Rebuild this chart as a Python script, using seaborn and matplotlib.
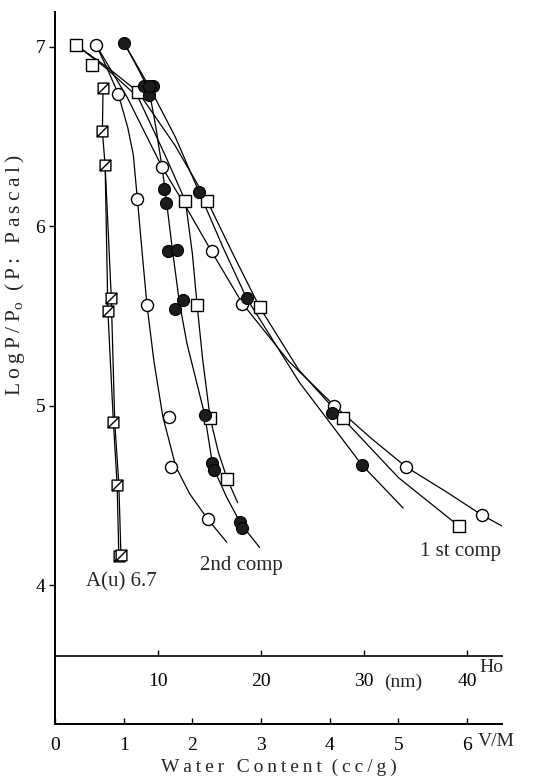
import numpy as np
import pandas as pd
import matplotlib
matplotlib.use("Agg")
import matplotlib.pyplot as plt
import seaborn as sns
from matplotlib.path import Path

# ---------------- data ----------------
# A(u) 6.7 (hatched squares), two runs
au1_x = [0.70, 0.69, 0.73, 0.77, 0.85, 0.905, 0.93]
au1_y = [6.77, 6.53, 6.34, 5.53, 4.91, 4.56, 4.16]
au2_x = [0.73, 0.82, 0.87, 0.93, 0.96]
au2_y = [6.34, 5.60, 4.91, 4.56, 4.17]
au2_mx = [0.82, 0.96]
au2_my = [5.60, 4.17]

# 2nd comp
oc2_x = [0.92, 1.20, 1.34, 1.66, 1.69, 2.23]
oc2_y = [6.74, 6.15, 5.56, 4.94, 4.66, 4.37]
fc2_x = [1.30, 1.42, 1.37, 1.59, 1.62, 1.65, 1.77, 1.87, 1.75, 2.18, 2.28, 2.32, 2.69, 2.73]
fc2_y = [6.78, 6.78, 6.73, 6.21, 6.13, 5.86, 5.87, 5.59, 5.54, 4.95, 4.68, 4.64, 4.35, 4.32]
os2_x = [0.54, 1.90, 2.07, 2.26, 2.51]
os2_y = [6.90, 6.14, 5.56, 4.93, 4.59]

# 1st comp
oc1_x = [0.60, 1.56, 2.28, 2.73, 4.07, 5.11, 6.22]
oc1_y = [7.01, 6.33, 5.86, 5.57, 5.00, 4.66, 4.39]
fc1_x = [1.01, 1.37, 2.10, 2.79, 4.03, 4.47]
fc1_y = [7.02, 6.78, 6.19, 5.60, 4.96, 4.67]
os1_x = [0.31, 1.21, 2.22, 2.98, 4.19, 5.88]
os1_y = [7.01, 6.75, 6.14, 5.55, 4.93, 4.33]

# hand-drawn guide curves
c_oc2_x = [0.60, 0.76, 0.92, 1.06, 1.14, 1.20, 1.27, 1.34, 1.44, 1.57, 1.76, 1.96, 2.22, 2.50]
c_oc2_y = [7.01, 6.88, 6.74, 6.55, 6.40, 6.15, 5.85, 5.56, 5.25, 4.94, 4.66, 4.51, 4.37, 4.24]
c_fc2_x = [1.01, 1.18, 1.37, 1.47, 1.57, 1.62, 1.71, 1.81, 1.92, 2.05, 2.18, 2.30, 2.50, 2.71, 2.98]
c_fc2_y = [7.02, 6.90, 6.76, 6.55, 6.30, 6.15, 5.87, 5.58, 5.35, 5.15, 4.95, 4.66, 4.49, 4.34, 4.21]
c_os2_x = [0.31, 0.75, 1.21, 1.60, 1.90, 2.00, 2.07, 2.15, 2.26, 2.38, 2.51, 2.66]
c_os2_y = [7.01, 6.88, 6.72, 6.40, 6.14, 5.85, 5.56, 5.26, 4.93, 4.74, 4.59, 4.46]
c_oc1_x = [0.60, 1.05, 1.56, 1.92, 2.28, 2.73, 3.40, 4.07, 4.60, 5.11, 5.70, 6.22, 6.51]
c_oc1_y = [7.01, 6.72, 6.33, 6.10, 5.86, 5.57, 5.25, 5.00, 4.82, 4.66, 4.52, 4.39, 4.33]
c_fc1_x = [1.01, 1.37, 1.75, 2.10, 2.45, 2.79, 3.56, 4.47, 5.07]
c_fc1_y = [7.02, 6.78, 6.50, 6.19, 5.88, 5.60, 5.13, 4.67, 4.43]
c_os1_x = [0.31, 0.75, 1.21, 1.75, 2.22, 2.60, 2.98, 3.55, 4.19, 5.00, 5.88]
c_os1_y = [7.01, 6.89, 6.75, 6.45, 6.14, 5.84, 5.55, 5.20, 4.93, 4.60, 4.33]

y_ticks = [4, 5, 6, 7]
x_ticks = [0, 1, 2, 3, 4, 5, 6]
ho_ticks = [10, 20, 30, 40]

# ---------------- styling ----------------
sns.set_style("ticks")
plt.rcParams["font.family"] = ["Liberation Serif", "DejaVu Serif"]
plt.rcParams["mathtext.fontset"] = "custom"
plt.rcParams["mathtext.rm"] = "Liberation Serif"

fig = plt.figure(figsize=(5.52, 7.81), dpi=100)
ax = fig.add_axes([55 / 552, 57 / 781, 447 / 552, 712 / 781])

lw = 0.9
curves = [(au1_x, au1_y), (au2_x, au2_y), (c_oc2_x, c_oc2_y), (c_fc2_x, c_fc2_y),
          (c_os2_x, c_os2_y), (c_oc1_x, c_oc1_y), (c_fc1_x, c_fc1_y), (c_os1_x, c_os1_y)]
for cx, cy in curves:
    sns.lineplot(x=cx, y=cy, sort=False, estimator=None, color="black", lw=lw, ax=ax)

hatch_sq = Path([(-1, -1), (1, -1), (1, 1), (-1, 1), (-1, -1), (-1, -1), (1, 1)],
                [Path.MOVETO, Path.LINETO, Path.LINETO, Path.LINETO, Path.CLOSEPOLY,
                 Path.MOVETO, Path.LINETO])

open_kw = dict(facecolor="white", edgecolor="black", linewidth=1.0, zorder=3, ax=ax)
sns.scatterplot(x=au1_x, y=au1_y, marker=hatch_sq, s=60, **open_kw)
sns.scatterplot(x=au2_mx, y=au2_my, marker=hatch_sq, s=60, **open_kw)
for xs, ys in [(oc2_x, oc2_y), (oc1_x, oc1_y)]:
    sns.scatterplot(x=xs, y=ys, marker="o", s=75, **open_kw)
for xs, ys in [(os2_x, os2_y), (os1_x, os1_y)]:
    sns.scatterplot(x=xs, y=ys, marker="s", s=75, **open_kw)
for xs, ys in [(fc2_x, fc2_y), (fc1_x, fc1_y)]:
    sns.scatterplot(x=xs, y=ys, marker="o", s=75, facecolor="#1c1c1c",
                    edgecolor="black", linewidth=0.8, zorder=4, ax=ax)

ax.set_xlim(0, 6.51)
ax.set_ylim(3.226, 7.195)
for side in ["top", "right"]:
    ax.spines[side].set_visible(False)
for side in ["left", "bottom"]:
    ax.spines[side].set_linewidth(1.4)
    ax.spines[side].set_color("black")

ax.set_yticks(y_ticks)
ax.set_yticklabels([str(v) for v in y_ticks])
ax.set_xticks(x_ticks)
ax.set_xticklabels([str(v) for v in x_ticks])
ax.tick_params(axis="y", direction="out", length=4, width=1, labelsize=14, pad=3, colors="black")
ax.tick_params(axis="x", direction="in", length=4, width=1, labelsize=14, pad=9, colors="black")

# Ho axis
ho_pos = (3.604 - 3.226) / (7.195 - 3.226)
sec = ax.secondary_xaxis(ho_pos, functions=(lambda v: v / 0.15, lambda h: h * 0.15))
sec.set_xticks(ho_ticks)
sec.set_xticklabels([str(v) for v in ho_ticks])
sec.tick_params(direction="in", length=4, width=1, labelsize=14, pad=12, colors="black")
sec.spines["bottom"].set_linewidth(1.4)

ax.text(5.07, 3.46, "(nm)", fontsize=14, ha="center", va="center")
ax.text(6.18, 3.54, "Ho", fontsize=14, ha="left", va="center")
ax.text(6.16, 3.13, "V/M", fontsize=14, ha="left", va="center", clip_on=False)

ths = "\u2009"
ax.set_xlabel(ths.join("Water Content") + "  " + ths.join("(cc/g)"), fontsize=14, labelpad=4)
ylab = ths.join("LogP/P") + r"$_{\rm o}$" + "  " + ths.join("(P: Pascal)")
ax.set_ylabel(ylab, fontsize=15.5)
ax.yaxis.set_label_coords(-0.062, 0.63)

ax.text(0.96, 4.02, "A(u) 6.7", fontsize=15, ha="center", va="center")
ax.text(2.72, 4.11, "2nd comp", fontsize=15, ha="center", va="center")
ax.text(5.90, 4.19, "1 st comp", fontsize=15, ha="center", va="center")

fig.savefig("out.png", dpi=100)
